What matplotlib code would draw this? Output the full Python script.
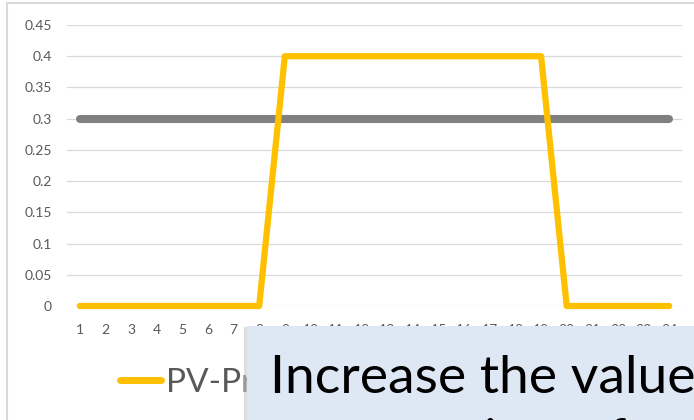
import matplotlib
matplotlib.use("Agg")
import matplotlib.pyplot as plt
from matplotlib.patches import Rectangle

plt.rcParams["font.family"] = ["Lato", "DejaVu Sans"]

# Hourly values (kW) for the day
hours = [1, 2, 3, 4, 5, 6, 7, 8, 9, 10, 11, 12,
         13, 14, 15, 16, 17, 18, 19, 20, 21, 22, 23, 24]
pv_production = [0, 0, 0, 0, 0, 0, 0, 0, 0.4, 0.4, 0.4, 0.4,
                 0.4, 0.4, 0.4, 0.4, 0.4, 0.4, 0.4, 0, 0, 0, 0, 0]
load = [0.3, 0.3, 0.3, 0.3, 0.3, 0.3, 0.3, 0.3, 0.3, 0.3, 0.3, 0.3,
        0.3, 0.3, 0.3, 0.3, 0.3, 0.3, 0.3, 0.3, 0.3, 0.3, 0.3, 0.3]
y_ticks = [0, 0.05, 0.1, 0.15, 0.2, 0.25, 0.3, 0.35, 0.4, 0.45]
y_tick_labels = ["0", "0.05", "0.1", "0.15", "0.2", "0.25", "0.3", "0.35", "0.4", "0.45"]
legend_label = "PV-Production"
callout_lines = ["Increase the value", "in so far"]

W, H = 694, 420
fig = plt.figure(figsize=(W / 100, H / 100), dpi=100)
fig.patch.set_facecolor("white")

def fx(px):
    return px / W

def fy(py):
    return 1 - py / H

# chart area outline
fig.add_artist(Rectangle((fx(7), fy(440)), fx(720), fy(3) - fy(440),
                         transform=fig.transFigure, facecolor="none",
                         edgecolor="#D9D9D9", linewidth=1.5, zorder=0))

ax = fig.add_axes([fx(67), fy(306), fx(682) - fx(67), fy(25) - fy(306)])
ax.set_xlim(0.5, 24.5)
ax.set_ylim(0, 0.45)
for s in ax.spines.values():
    s.set_visible(False)
ax.set_yticks(y_ticks)
ax.set_yticklabels(y_tick_labels)
ax.set_xticks(hours)
ax.set_xticklabels([str(h) for h in hours])
ax.tick_params(axis="both", length=0, labelsize=10, labelcolor="#595959")
ax.tick_params(axis="y", pad=11)
ax.tick_params(axis="x", pad=13)
ax.grid(axis="y", color="#D9D9D9", linewidth=0.9)
ax.set_axisbelow(True)

ax.plot(hours, load, color="#808080", linewidth=5.8, solid_capstyle="round",
        solid_joinstyle="round", clip_on=False, zorder=3)
ax.plot(hours, pv_production, color="#FFC000", linewidth=4.5, solid_capstyle="round",
        solid_joinstyle="round", clip_on=False, zorder=4, label=legend_label)

# legend entry
fig.add_artist(plt.Line2D([fx(120), fx(161)], [fy(380), fy(380)],
                          transform=fig.transFigure, color="#FFC000",
                          linewidth=5, solid_capstyle="round"))
fig.text(fx(166), fy(392), legend_label, fontsize=24, color="#595959",
         ha="left", va="baseline")

# callout box
fig.add_artist(Rectangle((fx(244), fy(440)), fx(500), fy(327) - fy(440),
                         transform=fig.transFigure, facecolor="#C8C8C8",
                         edgecolor="none", alpha=0.6, zorder=9))
fig.add_artist(Rectangle((fx(247), fy(440)), fx(500), fy(326) - fy(440),
                         transform=fig.transFigure, facecolor="#DEE8F5",
                         edgecolor="none", zorder=10))
fig.text(fx(270), fy(393), callout_lines[0], fontsize=38.5, color="black",
         ha="left", va="baseline", zorder=11)
fig.text(fx(484), fy(456), callout_lines[1], fontsize=38.5, color="black",
         ha="left", va="baseline", zorder=11)

fig.savefig("out.png", dpi=100)
